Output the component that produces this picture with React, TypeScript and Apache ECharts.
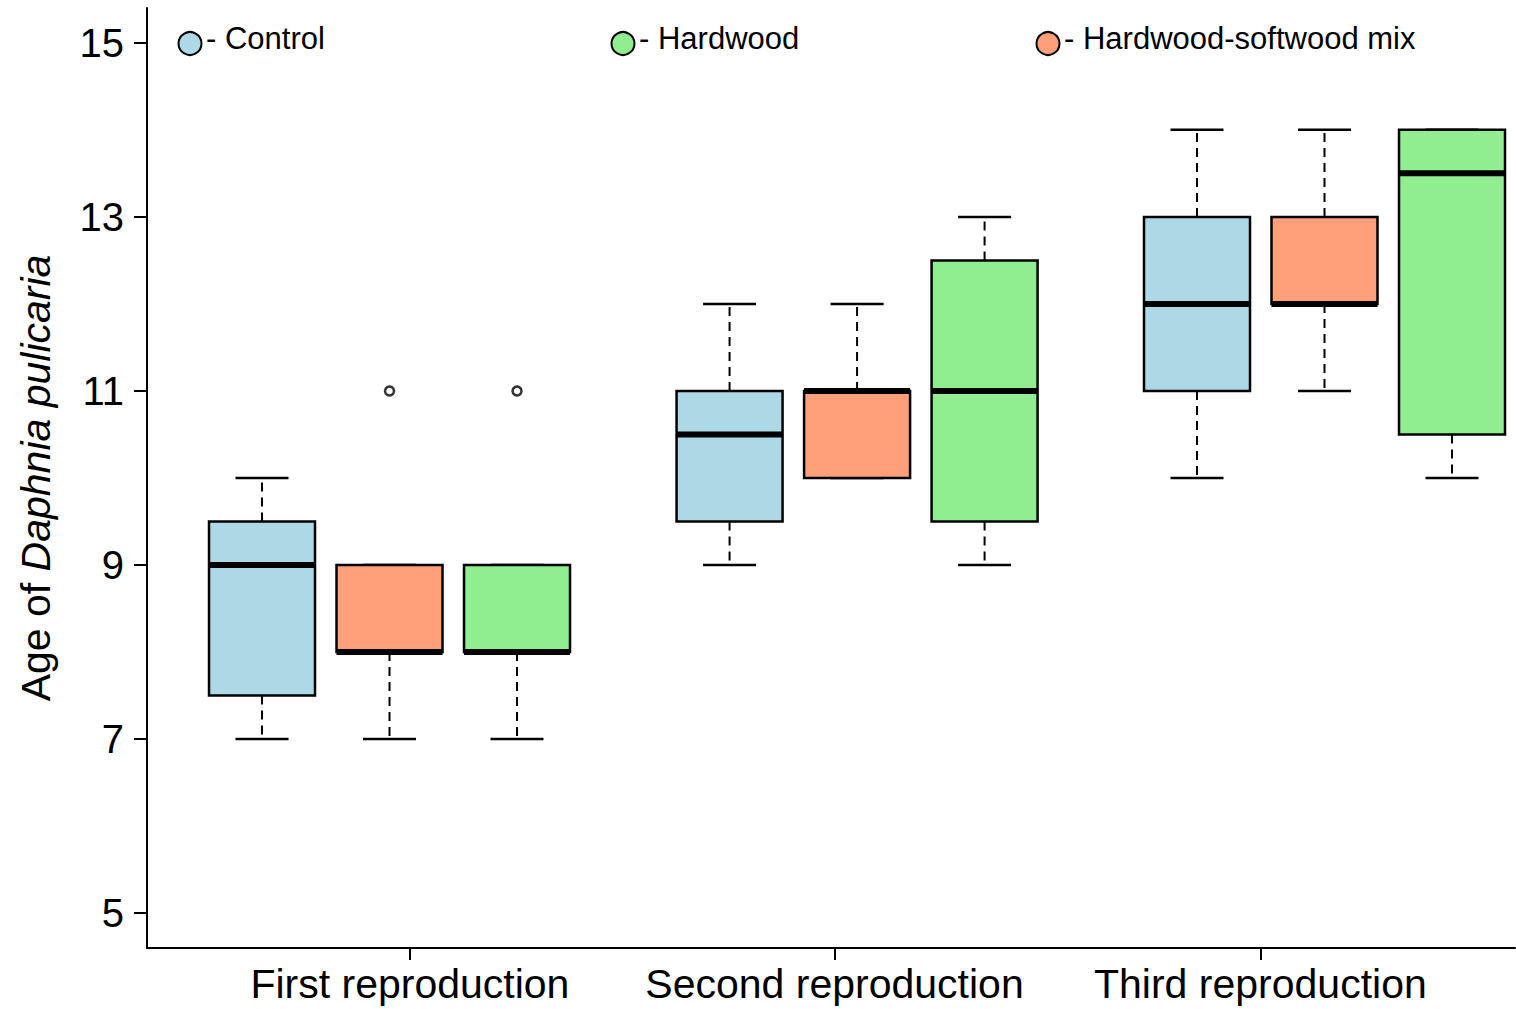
import React, { useEffect, useRef } from "react";
import * as echarts from "echarts";

const FONT = "'Liberation Sans', Arial, sans-serif";

const categories = ["First reproduction", "Second reproduction", "Third reproduction"];
const categoryTicks = [2.16, 5.49, 8.83];
const yTicks = [5, 7, 9, 11, 13, 15];

const seriesNames = ["Control", "Hardwood", "Hardwood-softwood mix"];
const seriesColors = ["#ADD8E6", "#90EE90", "#FFA07A"];

// box positions on the x axis (one per reproduction)
const controlPos = [1, 4.667, 8.333];
const mixPos = [2, 5.667, 9.333];
const hardwoodPos = [3, 6.667, 10.333];

// [lower whisker, Q1, median, Q3, upper whisker]
const controlStats = [
  [7, 7.5, 9, 9.5, 10],
  [9, 9.5, 10.5, 11, 12],
  [10, 11, 12, 13, 14],
];
const hardwoodStats = [
  [7, 8, 8, 9, 9],
  [9, 9.5, 11, 12.5, 13],
  [10, 10.5, 13.5, 14, 14],
];
const mixStats = [
  [7, 8, 8, 9, 9],
  [10, 10, 11, 11, 12],
  [11, 12, 12, 13, 14],
];

// outliers [x position, value]
const outlierPoints = [
  [2, 11],
  [3, 11],
];

// legend anchor x (circle centre) for each group
const legendX = [190, 623, 1048];

const BOX_HALF = 53;
const CAP_HALF = 26.5;

function renderBox(params: any, api: any) {
  const x = api.value(0);
  const lo = api.value(1);
  const q1 = api.value(2);
  const med = api.value(3);
  const q3 = api.value(4);
  const hi = api.value(5);
  const cx = api.coord([x, lo])[0];
  const yLo = api.coord([x, lo])[1];
  const yQ1 = api.coord([x, q1])[1];
  const yMed = api.coord([x, med])[1];
  const yQ3 = api.coord([x, q3])[1];
  const yHi = api.coord([x, hi])[1];
  const color = api.visual("color");
  const dash = { stroke: "#000", lineWidth: 2, lineDash: [9, 6] };
  const solid = { stroke: "#000", lineWidth: 2.5 };
  return {
    type: "group",
    children: [
      { type: "line", shape: { x1: cx, y1: yQ1, x2: cx, y2: yLo }, style: dash },
      { type: "line", shape: { x1: cx, y1: yQ3, x2: cx, y2: yHi }, style: dash },
      { type: "line", shape: { x1: cx - CAP_HALF, y1: yLo, x2: cx + CAP_HALF, y2: yLo }, style: solid },
      { type: "line", shape: { x1: cx - CAP_HALF, y1: yHi, x2: cx + CAP_HALF, y2: yHi }, style: solid },
      {
        type: "rect",
        shape: { x: cx - BOX_HALF, y: yQ3, width: BOX_HALF * 2, height: yQ1 - yQ3 },
        style: { fill: color, stroke: "#000", lineWidth: 2.5 },
      },
      {
        type: "line",
        shape: { x1: cx - BOX_HALF, y1: yMed, x2: cx + BOX_HALF, y2: yMed },
        style: { stroke: "#000", lineWidth: 6, lineCap: "butt" },
      },
    ],
  };
}

function boxSeries(name: string, color: string, pos: number[], stats: number[][]) {
  return {
    name,
    type: "custom",
    renderItem: renderBox,
    itemStyle: { color },
    encode: { x: 0, y: [1, 2, 3, 4, 5] },
    data: pos.map((p, i) => [p, ...stats[i]]),
    z: 2,
  };
}

function legendGraphics() {
  const out: any[] = [];
  seriesNames.forEach((name, i) => {
    out.push({
      type: "circle",
      shape: { cx: legendX[i], cy: 43.5, r: 11.5 },
      style: { fill: seriesColors[i], stroke: "#000", lineWidth: 2 },
      z: 10,
    });
    out.push({
      type: "text",
      x: legendX[i] + 16,
      y: 38,
      style: {
        text: "- " + name,
        fontSize: 31,
        fontFamily: FONT,
        fill: "#000",
        textAlign: "left",
        textVerticalAlign: "middle",
      },
      z: 10,
    });
  });
  return out;
}

export default function App() {
  const ref = useRef<HTMLDivElement>(null);
  useEffect(() => {
    if (!ref.current) return;
    const chart = echarts.init(ref.current, null, { renderer: "svg" });
    chart.setOption({
      animation: false,
      backgroundColor: "#fff",
      textStyle: { fontFamily: FONT },
      graphic: legendGraphics(),
      grid: { left: 147, top: 8, right: 1, bottom: 61 },
      xAxis: {
        type: "value",
        min: 0.098,
        max: 10.827,
        splitLine: { show: false },
        axisLine: { show: true, onZero: false, lineStyle: { color: "#000", width: 2 } },
        axisTick: { show: true, length: 12, customValues: categoryTicks, lineStyle: { color: "#000", width: 2 } },
        axisLabel: {
          customValues: categoryTicks,
          fontSize: 41,
          color: "#000",
          fontFamily: FONT,
          margin: 15,
          formatter: (v: number) => {
            const i = categoryTicks.findIndex((t) => Math.abs(t - v) < 0.01);
            return i >= 0 ? categories[i] : "";
          },
        },
      },
      yAxis: {
        type: "value",
        min: 4.6,
        max: 15.4,
        splitLine: { show: false },
        name: "Age of {i|Daphnia pulicaria}",
        nameLocation: "middle",
        nameRotate: 90,
        nameGap: 111,
        nameTextStyle: {
          fontSize: 41,
          color: "#000",
          fontFamily: FONT,
          verticalAlign: "middle",
          rich: { i: { fontSize: 41, fontStyle: "italic", color: "#000", fontFamily: FONT } },
        },
        axisLine: { show: true, onZero: false, lineStyle: { color: "#000", width: 2 } },
        axisTick: { show: true, length: 13, customValues: yTicks, lineStyle: { color: "#000", width: 2 } },
        axisLabel: { customValues: yTicks, fontSize: 40, color: "#000", fontFamily: FONT, margin: 23 },
      },
      series: [
        boxSeries(seriesNames[0], seriesColors[0], controlPos, controlStats),
        boxSeries(seriesNames[2], seriesColors[2], mixPos, mixStats),
        boxSeries(seriesNames[1], seriesColors[1], hardwoodPos, hardwoodStats),
        {
          name: "Outliers",
          type: "scatter",
          symbol: "circle",
          symbolSize: 9,
          itemStyle: { color: "#fff", borderColor: "#000", borderWidth: 2.5 },
          data: outlierPoints,
          z: 3,
        },
      ],
    });
    return () => chart.dispose();
  }, []);
  return <div ref={ref} style={{ position: "fixed", left: 0, top: 0, width: 1516, height: 1009 }} />;
}
